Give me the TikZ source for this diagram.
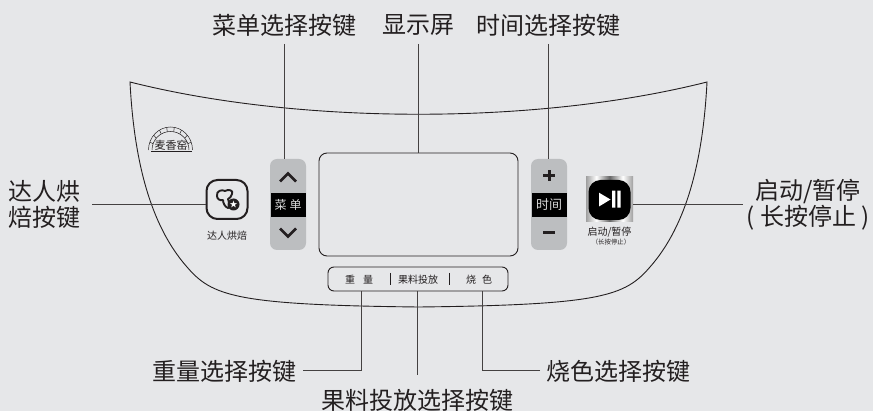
\documentclass[tikz,border=0pt]{standalone}
\usepackage{fontspec}
\setmainfont{Noto Sans CJK SC}
\usetikzlibrary{calc}
\definecolor{bg}{HTML}{E6E7E9}
\definecolor{ink}{HTML}{231F20}
\definecolor{keygrey}{HTML}{BCBEC0}
\pgfdeclarehorizontalshading{silver}{100bp}{
  color(0bp)=(gray!75); color(25bp)=(gray!75); color(36bp)=(white); color(50bp)=(black!60);
  color(64bp)=(white); color(75bp)=(gray!75); color(100bp)=(gray!75)}
\tikzset{
  biglabel/.style={font=\fontsize{24}{26}\selectfont,text=ink,inner sep=0pt,align=center},
  smalllabel/.style={font=\fontsize{10}{12}\selectfont,text=ink,inner sep=0pt},
  leader/.style={draw=ink!85,line width=1pt},
  outline/.style={draw=ink,line width=0.9pt},
  keypad/.style={fill=keygrey,rounded corners=7pt,minimum width=36pt,minimum height=91pt,inner sep=0pt},
  keybar/.style={fill=black,minimum width=35pt,minimum height=24pt,inner sep=0pt,text=white!85!black,font=\fontsize{13}{15}\selectfont},
  keyglyph/.style={draw=ink,line width=2.6pt,line join=miter},
}
\begin{document}
\begin{tikzpicture}[x=1pt,y=-1pt]
\useasboundingbox (0,0) rectangle (873,411);
\fill[bg] (0,0) rectangle (873,411);

% body outline
\draw[outline,line join=miter] (130,82) .. controls (300,125) and (537,125) .. (707,82)
  .. controls (703,160) and (687,225) .. (650,267)
  .. controls (625,296) and (602,305) .. (418.5,307)
  .. controls (235,305) and (212,296) .. (187,267)
  .. controls (150,225) and (134,160) .. (130,82) -- cycle;

% display
\node[draw=ink,line width=0.9pt,rounded corners=8pt,minimum width=199pt,minimum height=103pt,inner sep=0pt] (display) at (418.5,204.5) {};

% menu keys
\node[keypad] (menu) at (288,204.5) {};
\node[keybar,font=\fontsize{12}{14}\selectfont] (menubar) at (288,205) {菜\hspace{3pt}单};
\draw[keyglyph] (280,181.5) -- (288,173.5) -- (296,181.5);
\draw[keyglyph] (280,228.5) -- (288,236.5) -- (296,228.5);

% time keys
\node[keypad] (time) at (549,204.5) {};
\node[keybar] (timebar) at (549,205) {时间};
\draw[keyglyph,line width=3pt] (543,176) -- (555,176) (549,170.5) -- (549,181.5);
\draw[keyglyph,line width=3pt] (543,232.8) -- (555,232.8);

% master baker key
\node[draw=ink,line width=2pt,rounded corners=11pt,minimum width=41pt,minimum height=39pt,inner sep=0pt] (baker) at (227,199.5) {};
\draw[ink,line width=1.9pt,line join=round] (217,196) .. controls (216,191) and (222,189) .. (225,191)
  .. controls (228,189) and (234,190) .. (232,194) .. controls (232,197) and (229,198) .. (228,199)
  .. controls (228,202) and (230,204) .. (231,206) -- (228,208)
  .. controls (225,207) and (223,203) .. (223,200) .. controls (220,201) and (217,199) .. (217,196) -- cycle;
\fill[ink] (233.5,204.5) circle (6pt);
\node[white,inner sep=0pt,font=\fontsize{8}{8}\selectfont] (star) at (233.5,204.5) {★};
\node[smalllabel] (bakerlab) at (227,236) {达人烘焙};

% start key
\node[minimum width=47pt,minimum height=45pt,inner sep=0pt,shading=silver] (start) at (609.5,199.5) {};
\node[fill=black,rounded corners=12pt,minimum width=42pt,minimum height=40pt,inner sep=0pt] (startface) at (609.5,200) {};
\fill[white] (599,192.7) -- (610.5,199.5) -- (599,206.5) -- cycle;
\fill[white] (612,190.7) rectangle (615.3,207.7) (617.3,190.7) rectangle (620.5,207.7);
\node[smalllabel] (startlab) at (609.5,231.7) {启动/暂停};
\node[font=\fontsize{6.4}{7}\selectfont,text=ink,inner sep=0pt] (startsub) at (611,242) {（长按停止）};

% strip
\node[draw=ink,line width=0.9pt,rounded corners=6pt,minimum width=180pt,minimum height=24pt,inner sep=0pt] (strip) at (418,279) {};
\node[smalllabel] (weight) at (359,279.5) {重\hspace{8pt}量};
\node[smalllabel] (fruit) at (418,279.5) {果料投放};
\node[smalllabel] (color) at (479,279.5) {烧\hspace{6pt}色};
\draw[ink,line width=0.9pt] (390,273) -- (390,285) (449.3,273) -- (449.3,285);

% logo
\draw[ink,line width=.5pt] (148.5,150) arc (180:360:22 and 23);
\draw[ink,line width=.5pt] (152,150) arc (180:360:18.5 and 18.5);
\foreach \a in {20,40,...,160}{
  \draw[ink,line width=.5pt] ($(170.5,150)+({18.5*cos(\a)},{-18.5*sin(\a)})$) -- ($(170.5,150)+({22*cos(\a)},{-23*sin(\a)})$);
}
\draw[ink,line width=1pt] (151,152) -- (192,152);
\node[font=\fontsize{11}{11}\selectfont,text=ink,inner sep=0pt] (logo) at (171,145) {麦香窑};

% labels
\node[biglabel] (l1) at (284,25) {菜单选择按键};
\node[biglabel] (l2) at (418.5,25) {显示屏};
\node[biglabel] (l3) at (548,25) {时间选择按键};
\node[biglabel,anchor=west] (l4) at (8,204) {达人烘\\焙按键};
\node[biglabel] (l5) at (808,205) {启动/暂停\\( 长按停止 )};
\node[biglabel,anchor=east] (l6) at (297,371) {重量选择按键};
\node[biglabel] (l7) at (417,400) {果料投放选择按键};
\node[biglabel,anchor=west] (l8) at (546,371) {烧色选择按键};

% leaders
\coordinate (a1) at (284,44); \draw[leader] (a1) -- (menu.north -| a1);
\coordinate (a2) at (418.5,44); \draw[leader] (a2) -- (display.north -| a2);
\coordinate (a3) at (548,44); \draw[leader] (a3) -- (time.north -| a3);
\coordinate (a4) at (92,204.7); \draw[leader] (a4) -- (baker.west |- a4);
\coordinate (a5) at (742.7,204.7); \draw[leader] (a5) -- (start.east |- a5);
\coordinate (a6) at (303,371); \coordinate (b6) at (361,371);
\draw[leader] (a6) -- (b6) -- (b6 |- strip.south);
\coordinate (a7) at (417.5,375); \draw[leader] (a7) -- (strip.south -| a7);
\coordinate (a8) at (540,371); \coordinate (b8) at (482,371);
\draw[leader] (a8) -- (b8) -- (b8 |- strip.south);
\end{tikzpicture}
\end{document}
